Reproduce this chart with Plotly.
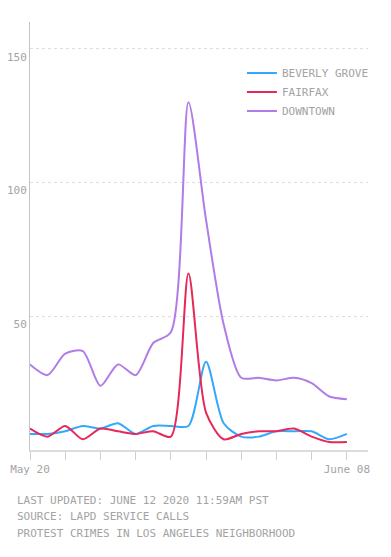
import pandas as pd
import plotly.graph_objects as go

# ---- data ----
dates = pd.date_range("2020-05-20", "2020-06-08", periods=19)
beverly_grove = [6, 6, 7, 9, 8, 10, 6, 9, 9, 9, 33, 10, 5, 5, 7, 7, 7, 4, 6]
fairfax = [8, 5, 9, 4, 8, 7, 6, 7, 5, 66, 14, 4, 6, 7, 7, 8, 5, 3, 3]
downtown = [32, 28, 36, 37, 24, 32, 28, 40, 44, 130, 86, 47, 27, 27, 26, 27, 25, 20, 19]

series_names = ["BEVERLY GROVE", "FAIRFAX", "DOWNTOWN"]
series_values = [beverly_grove, fairfax, downtown]
series_colors = ["#34a9fb", "#e6285a", "#b07ce8"]

y_tick_vals = [50, 100, 150]
y_tick_text = ["50", "100", "150"]
x_first_label = "May 20"
x_last_label = "June 08"

footer_lines = [
    "LAST UPDATED: JUNE 12 2020 11:59AM PST",
    "SOURCE: LAPD SERVICE CALLS",
    "PROTEST CRIMES IN LOS ANGELES NEIGHBORHOOD",
]

FONT = "DejaVu Sans Mono, Liberation Mono, monospace"
GRAY = "#a3a3a3"

fig = go.Figure()
for name, vals, col in zip(series_names, series_values, series_colors):
    fig.add_trace(go.Scatter(
        x=dates, y=vals, name=name, mode="lines",
        line=dict(color=col, width=2, shape="spline", smoothing=0.75),
        hoverinfo="x+y+name",
    ))

x_tickvals = list(dates[::2])
x_ticktext = [x_first_label] + [""] * (len(x_tickvals) - 2) + [x_last_label]
step = dates[1] - dates[0]
x_range = [dates[0], dates[0] + step * 19.2]

fig.update_layout(
    width=391, height=557,
    margin=dict(l=30, r=23, t=22, b=107, autoexpand=False),
    paper_bgcolor="white", plot_bgcolor="white",
    font=dict(family=FONT, size=11, color=GRAY),
    showlegend=True,
    legend=dict(
        x=0.627, xanchor="left", y=0.915, yanchor="top",
        bgcolor="rgba(0,0,0,0)", font=dict(family=FONT, size=11, color=GRAY),
        itemwidth=30, tracegroupgap=0,
    ),
    xaxis=dict(
        range=x_range, tickmode="array", tickvals=x_tickvals, ticktext=x_ticktext,
        showgrid=False, zeroline=False, showline=True, linecolor="#dcdcdc", linewidth=1.5,
        ticks="outside", ticklen=8, tickcolor="#cfcfcf", tickwidth=1,
        tickfont=dict(family=FONT, size=11, color=GRAY), tickangle=0, automargin=False,
    ),
    yaxis=dict(
        range=[0, 160], tickmode="array", tickvals=y_tick_vals, ticktext=y_tick_text,
        showgrid=True, gridcolor="#dedede", griddash="dot", gridwidth=1,
        zeroline=False, showline=True, linecolor="#c4c4c4", linewidth=1,
        ticks="", ticklabelshift=8, ticklabelstandoff=0, automargin=False,
        tickfont=dict(family=FONT, size=11, color=GRAY),
    ),
)

for i, line in enumerate(footer_lines):
    fig.add_annotation(
        text=line, xref="paper", yref="paper", x=0, y=0,
        xanchor="left", yanchor="middle", xshift=-15, yshift=-(50 + 16.5 * i),
        showarrow=False, font=dict(family=FONT, size=11, color=GRAY),
    )

fig.write_html("out.html", config={"displayModeBar": False},
               post_script="document.body.style.margin='0';")
